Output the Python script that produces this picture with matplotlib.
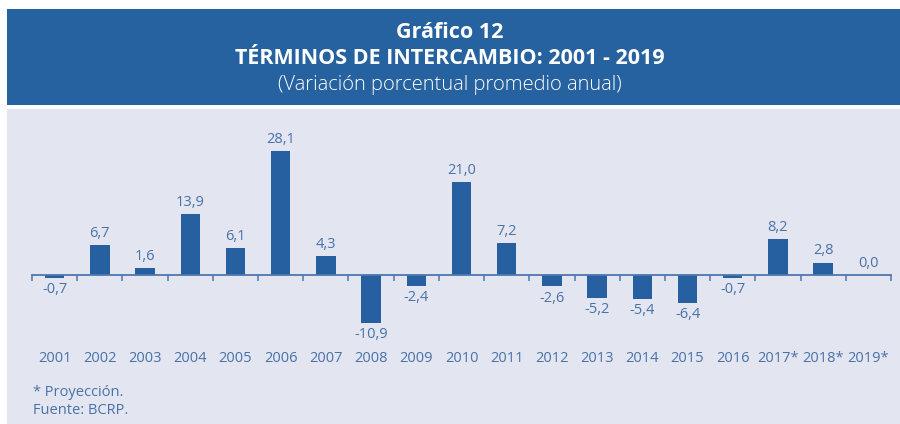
import matplotlib
matplotlib.use("Agg")
import matplotlib.pyplot as plt
from matplotlib.patches import Rectangle
import matplotlib.transforms as mtransforms

years = ["2001", "2002", "2003", "2004", "2005", "2006", "2007", "2008", "2009", "2010",
         "2011", "2012", "2013", "2014", "2015", "2016", "2017*", "2018*", "2019*"]
values = [-0.7, 6.7, 1.6, 13.9, 6.1, 28.1, 4.3, -10.9, -2.4, 21.0,
          7.2, -2.6, -5.2, -5.4, -6.4, -0.7, 8.2, 2.8, 0.0]
title1 = "Gráfico 12"
title2 = "TÉRMINOS DE INTERCAMBIO: 2001 - 2019"
subtitle = "(Variación porcentual promedio anual)"
notes = ["* Proyección.", "Fuente: BCRP."]

W, H = 900, 424
HEADER = "#2762a0"
BAR = "#2660a0"
PANEL = "#e3e5f1"
TXT = "#4872a8"
AXC = "#4d78ad"

plt.rcParams['font.family'] = ['Open Sans', 'DejaVu Sans']

fig = plt.figure(figsize=(W / 100, H / 100), dpi=100)
fig.patch.set_facecolor("white")

def fx(px):
    return px / W

def fy(py):
    return 1 - py / H

# header box
fig.patches.append(Rectangle((fx(7), fy(105)), fx(900) - fx(7), fy(9) - fy(105),
                             transform=fig.transFigure, facecolor=HEADER, edgecolor="none", zorder=-2))
# panel
fig.patches.append(Rectangle((fx(7), 0), fx(900) - fx(7), fy(109),
                             transform=fig.transFigure, facecolor=PANEL, edgecolor="none", zorder=-2))

fig.text(0.5, fy(32), title1, ha="center", va="center", color="white", fontsize=15.5, fontweight="bold")
fig.text(0.5, fy(58), title2, ha="center", va="center", color="white", fontsize=15.5, fontweight="bold")
fig.text(0.5, fy(85), subtitle, ha="center", va="center", color="white", fontsize=14.5, fontweight="light")

# axes
left_px, right_px = 32, 891
top_px, bot_px = 130, 340
ax = fig.add_axes([fx(left_px), fy(bot_px), fx(right_px) - fx(left_px), fy(top_px) - fy(bot_px)])
ax.set_zorder(2)
ax.set_facecolor("none")
n = len(values)
ax.set_xlim(-0.5, n - 0.5)
base_px = 275
units_per_px = 1 / 4.41
ymin = -(bot_px - base_px) * units_per_px
ymax = ymin + (bot_px - top_px) * units_per_px
ax.set_ylim(ymin, ymax)

x = list(range(n))
ax.bar(x, values, width=0.43, color=BAR, zorder=2)

for xi, v in zip(x, values):
    lab = f"{v:.1f}".replace(".", ",")
    if v >= 0:
        ax.annotate(lab, (xi, v), xytext=(0, 3), textcoords="offset points",
                    ha="center", va="bottom", color=TXT, fontsize=10.5, annotation_clip=False)
    else:
        ax.annotate(lab, (xi, v), xytext=(0, -3), textcoords="offset points",
                    ha="center", va="top", color=TXT, fontsize=10.5, annotation_clip=False)

for s in ["top", "right", "left"]:
    ax.spines[s].set_visible(False)
ax.spines["bottom"].set_position(("data", 0))
ax.spines["bottom"].set_color(AXC)
ax.spines["bottom"].set_linewidth(1.3)
ax.spines["bottom"].set_zorder(3)
ax.set_yticks([])
ax.set_xticks([i - 0.5 for i in range(n + 1)])
ax.set_xticklabels([])
ax.tick_params(axis="x", direction="out", length=4, width=1.1, color=AXC)

trans = mtransforms.blended_transform_factory(ax.transData, fig.transFigure)
for xi, yl in zip(x, years):
    ax.text(xi, fy(358), yl, transform=trans, ha="center", va="center", color=TXT, fontsize=10.5)

fig.text(fx(33), fy(392), notes[0], ha="left", va="center", color=TXT, fontsize=10.5)
fig.text(fx(33), fy(410), notes[1], ha="left", va="center", color=TXT, fontsize=10.5)

fig.savefig("out.png", dpi=100, facecolor=fig.get_facecolor())
